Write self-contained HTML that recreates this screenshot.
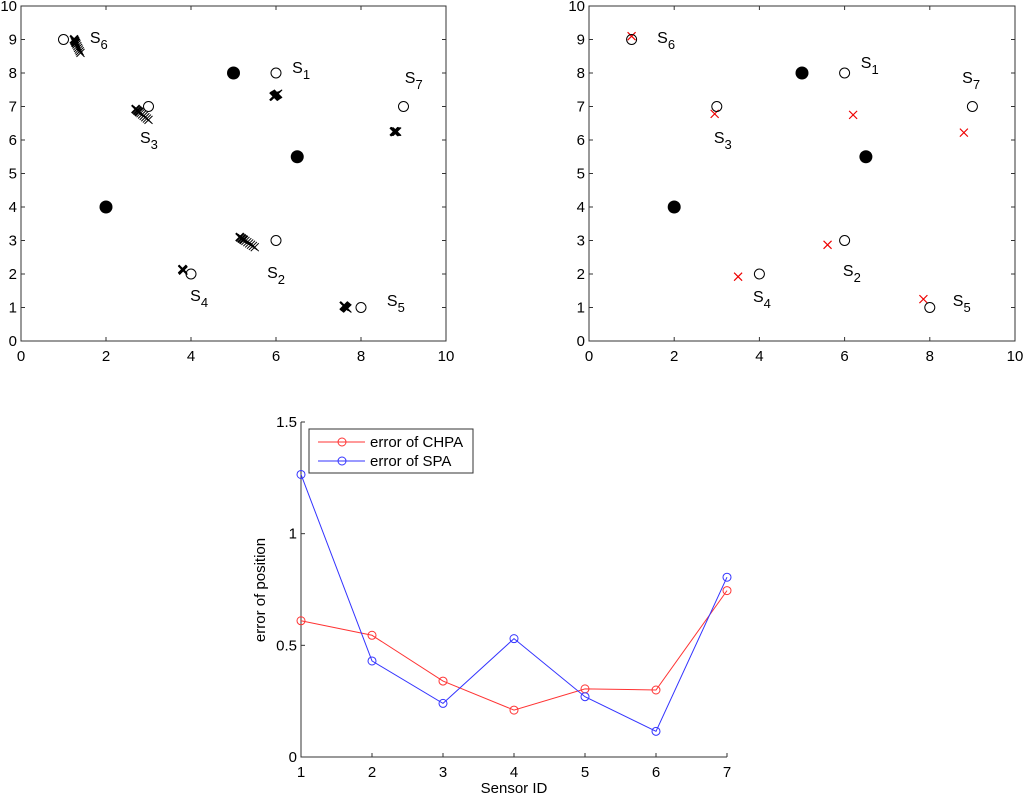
<!DOCTYPE html>
<html><head><meta charset="utf-8"><style>
body{margin:0;background:#fff;}
svg{display:block;font-family:"Liberation Sans",sans-serif;}
</style></head><body>
<svg id="fig" width="1024" height="796" viewBox="0 0 1024 796"></svg>
<script>
const sensorNames=['1','2','3','4','5','6','7'];
const sensorX=[6,6,3,4,8,1,9];
const sensorY=[8,3,7,2,1,9,7];
const anchorX=[5,6.5,2];
const anchorY=[8,5.5,4];
const labelX1=[6.38,5.79,2.8,3.98,8.61,1.62,9.03];
const labelY1=[8.0,1.88,5.91,1.19,1.04,8.9,7.7];
const labelX2=[6.38,5.96,2.93,3.85,8.54,1.6,8.76];
const labelY2=[8.15,1.94,5.91,1.16,1.04,8.9,7.7];
const trajStartX=[5.95,5.15,2.7,3.8,7.6,1.25,8.78];
const trajStartY=[7.3,3.1,6.92,2.14,1.05,9.0,6.25];
const trajEndX=[6.05,5.5,3.0,3.82,7.68,1.4,8.85];
const trajEndY=[7.38,2.8,6.6,2.1,0.97,8.6,6.25];
const chpaX=[6.2,5.6,2.95,3.5,7.85,1.0,8.8];
const chpaY=[6.75,2.87,6.78,1.92,1.25,9.1,6.22];
const sensorIds=[1,2,3,4,5,6,7];
const errCHPA=[0.61,0.545,0.34,0.21,0.305,0.30,0.745];
const errSPA=[1.265,0.43,0.24,0.53,0.27,0.115,0.805];
const yTicks3=['0','0.5','1','1.5'];

const NS='http://www.w3.org/2000/svg';
const svg=document.getElementById('fig');
function mk(t,a,p){const e=document.createElementNS(NS,t);for(const k in a)e.setAttribute(k,a[k]);(p||svg).appendChild(e);return e;}

function scatterAxes(x0,x1,y0,y1,name){
  const g=mk('g',{});
  
  
  const sx=v=>x0+(x1-x0)*v/10, sy=v=>y0-(y0-y1)*v/10;
  mk('rect',{x:x0,y:y1,width:x1-x0,height:y0-y1,fill:'none',stroke:'#333','stroke-width':1},g);
  for(let v=0;v<=10;v+=2){const x=sx(v);mk('line',{x1:x,y1:y0,x2:x,y2:y0-4,stroke:'#333'},g);mk('line',{x1:x,y1:y1,x2:x,y2:y1+4,stroke:'#333'},g);
    const t=mk('text',{x:x,y:y0+20,'text-anchor':'middle','font-size':15},g);t.textContent=v;}
  for(let v=0;v<=10;v++){const y=sy(v);mk('line',{x1:x0,y1:y,x2:x0+4,y2:y,stroke:'#333'},g);mk('line',{x1:x1,y1:y,x2:x1-4,y2:y,stroke:'#333'},g);
    const t=mk('text',{x:x0-4,y:y+5,'text-anchor':'end','font-size':15},g);t.textContent=v;}
  return {g,sx,sy};
}
function cross(g,x,y,s,c,w){mk('path',{d:`M${x-s} ${y-s}L${x+s} ${y+s}M${x-s} ${y+s}L${x+s} ${y-s}`,stroke:c,'stroke-width':w,fill:'none'},g);}
function label(g,x,y,n){const t=mk('text',{x:x,y:y,'font-size':16},g);t.textContent='S';const s=mk('tspan',{dy:6,'font-size':13},t);s.textContent=n;
  }

function drawPlot(ax,lx,ly,withTraj){
  const {g,sx,sy}=ax;
  for(let i=0;i<sensorX.length;i++){
    if(withTraj){const n=9;for(let k=0;k<n;k++){const f=k/(n-1);
      const x=sx(trajStartX[i]+(trajEndX[i]-trajStartX[i])*f), y=sy(trajStartY[i]+(trajEndY[i]-trajStartY[i])*f);
      cross(g,x,y,4,'#000',k<3?2:1);}}
    else cross(g,sx(chpaX[i]),sy(chpaY[i]),4,'#e00',1.2);
  }
  for(let i=0;i<anchorX.length;i++){const c=mk('circle',{cx:sx(anchorX[i]),cy:sy(anchorY[i]),r:6.5,fill:'#000'},g);
    }
  for(let i=0;i<sensorX.length;i++){
    const c=mk('circle',{cx:sx(sensorX[i]),cy:sy(sensorY[i]),r:5,fill:'none',stroke:'#000','stroke-width':1},g);
    
    label(g,sx(lx[i]),sy(ly[i]),sensorNames[i]);
  }
}
drawPlot(scatterAxes(21,446,341,6,'spa-scatter-plot'),labelX1,labelY1,true);
drawPlot(scatterAxes(589,1015,341,6,'chpa-scatter-plot'),labelX2,labelY2,false);

const g3=mk('g',{});


const X0=301,X1=727,Y0=757,Y1=422;
const lx=v=>X0+(X1-X0)*(v-1)/6, ly=v=>Y0-(Y0-Y1)*v/1.5;
mk('path',{d:`M${X0} ${Y1}V${Y0}H${X1}`,stroke:'#333',fill:'none'},g3);
for(const v of sensorIds){const x=lx(v);mk('line',{x1:x,y1:Y0,x2:x,y2:Y0-4,stroke:'#333'},g3);
  const t=mk('text',{x:x,y:Y0+20,'text-anchor':'middle','font-size':15},g3);t.textContent=v;}
for(const s of yTicks3){const y=ly(parseFloat(s));mk('line',{x1:X0,y1:y,x2:X0+4,y2:y,stroke:'#333'},g3);
  const t=mk('text',{x:X0-4,y:y+5,'text-anchor':'end','font-size':15},g3);t.textContent=s;}
const xt=mk('text',{x:(X0+X1)/2,y:793,'text-anchor':'middle','font-size':15},g3);xt.textContent='Sensor ID';

const yt=mk('text',{x:0,y:0,'text-anchor':'middle','font-size':15,transform:`translate(265,590) rotate(-90)`},g3);yt.textContent='error of position';

function series(vals,col,name){const p=mk('polyline',{points:vals.map((v,i)=>lx(sensorIds[i])+','+ly(v)).join(' '),fill:'none',stroke:col,'stroke-width':1},g3);
  
  vals.forEach((v,i)=>mk('circle',{cx:lx(sensorIds[i]),cy:ly(v),r:4,fill:'none',stroke:col},g3));}
series(errCHPA,'#f33','chpa-series');
series(errSPA,'#33f','spa-series');
const lg=mk('g',{});


mk('rect',{x:309,y:429,width:164,height:44,fill:'#fff',stroke:'#333'},lg);
[['error of CHPA','#f33',442],['error of SPA','#33f',461]].forEach(([t,c,y])=>{
  mk('line',{x1:318,y1:y,x2:365,y2:y,stroke:c},lg);mk('circle',{cx:342,cy:y,r:4,fill:'none',stroke:c},lg);
  const tx=mk('text',{x:370,y:y+5,'font-size':15},lg);tx.textContent=t;
  });
</script>
</body></html>
